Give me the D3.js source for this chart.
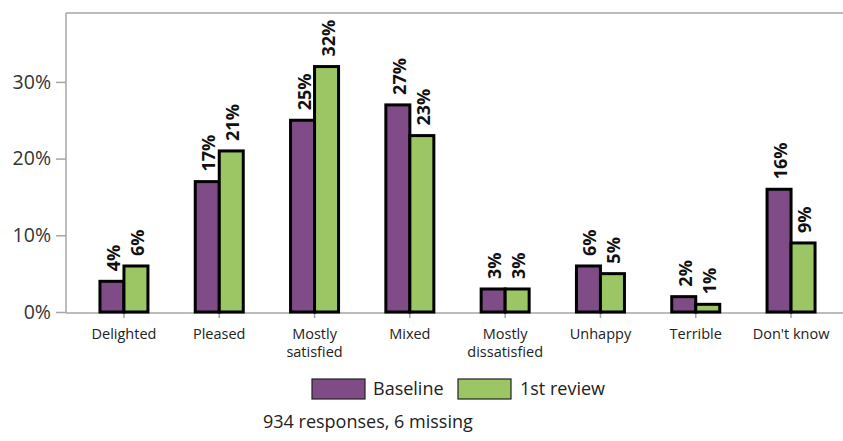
<!DOCTYPE html>
<html>
<head>
<meta charset="utf-8">
<script src="https://cdn.jsdelivr.net/npm/d3@7"></script>
<style>
  body { margin: 0; background: #fff; }
  svg { display: block; }
  text { font-family: "Open Sans", sans-serif; }
</style>
</head>
<body>
<svg id="chart" width="843" height="441"></svg>
<script>
const categories = ["Delighted", "Pleased", "Mostly satisfied", "Mixed", "Mostly dissatisfied", "Unhappy", "Terrible", "Don't know"];
const categoryLines = [["Delighted"], ["Pleased"], ["Mostly", "satisfied"], ["Mixed"], ["Mostly", "dissatisfied"], ["Unhappy"], ["Terrible"], ["Don't know"]];
const seriesNames = ["Baseline", "1st review"];
const baseline = [4, 17, 25, 27, 3, 6, 2, 16];
const firstReview = [6, 21, 32, 23, 3, 5, 1, 9];
const yTicks = [0, 10, 20, 30];
const footnote = "934 responses, 6 missing";

const colors = ["#7f4c87", "#9cc663"];
const svg = d3.select("#chart");

const plotLeft = 66, plotTop = 13, plotBottom = 313, plotRight = 843;

const x = d3.scaleBand().domain(categories).range([76.3, 838.7]).padding(0);
const y = d3.scaleLinear().domain([0, 39]).range([312, 312 - 39 * 7.67]);
const barW = 24;

// frame
svg.append("line").attr("x1", plotLeft).attr("x2", plotRight).attr("y1", plotTop).attr("y2", plotTop)
  .attr("stroke", "#a6a6a6").attr("stroke-width", 1.5);
svg.append("line").attr("x1", plotLeft).attr("x2", plotLeft).attr("y1", plotTop).attr("y2", plotBottom)
  .attr("stroke", "#a6a6a6").attr("stroke-width", 1.5);

// y axis
const yAxis = d3.axisLeft(y).tickValues(yTicks).tickFormat(d => d + "%").tickSize(10).tickPadding(5);
const gy = svg.append("g").attr("transform", `translate(${plotLeft},0)`).call(yAxis);
gy.select(".domain").remove();
gy.selectAll(".tick line").attr("stroke", "#a6a6a6").attr("stroke-width", 1.5);
gy.selectAll(".tick text").attr("font-size", 19.5).attr("fill", "#333").style("font-family", "'Open Sans', sans-serif");

// x axis
const xAxis = d3.axisBottom(x).tickSize(5).tickFormat("");
const gx = svg.append("g").attr("transform", `translate(0,${plotBottom})`).call(xAxis);
gx.select(".domain").remove();
svg.append("line").attr("x1", plotLeft).attr("x2", plotRight).attr("y1", plotBottom).attr("y2", plotBottom)
  .attr("stroke", "#a6a6a6").attr("stroke-width", 1.5);
gx.selectAll(".tick line").attr("stroke", "#a6a6a6").attr("stroke-width", 1.5);

categories.forEach((c, i) => {
  const t = svg.append("text")
    .attr("x", x(c) + x.bandwidth() / 2)
    .attr("y", 339)
    .attr("text-anchor", "middle")
    .attr("font-size", 14.5)
    .attr("fill", "#222");
  categoryLines[i].forEach((ln, j) => {
    t.append("tspan").attr("x", x(c) + x.bandwidth() / 2).attr("dy", j === 0 ? 0 : 18).text(ln);
  });
});

// bars
const data = [baseline, firstReview];
data.forEach((vals, s) => {
  const g = svg.append("g");
  g.selectAll("rect").data(categories).join("rect")
    .attr("x", c => x(c) + x.bandwidth() / 2 - barW + s * barW)
    .attr("y", (c, i) => y(vals[i]))
    .attr("width", barW)
    .attr("height", (c, i) => y(0) - y(vals[i]))
    .attr("fill", colors[s])
    .attr("stroke", "#000")
    .attr("stroke-width", 3);
  g.selectAll("text").data(categories).join("text")
    .attr("transform", (c, i) => {
      const cx = x(c) + x.bandwidth() / 2 - barW / 2 + s * barW + 1;
      return `translate(${cx},${y(vals[i]) - 10}) rotate(-90)`;
    })
    .attr("dominant-baseline", "central")
    .attr("text-anchor", "start")
    .attr("font-size", 18)
    .attr("font-weight", "bold")
    .attr("fill", "#111")
    .text((c, i) => vals[i] + "%");
});

// legend
const legendItems = [{ x: 312, tx: 373 }, { x: 458, tx: 520 }];
seriesNames.forEach((name, s) => {
  svg.append("rect").attr("x", legendItems[s].x).attr("y", 379).attr("width", 53).attr("height", 20)
    .attr("fill", colors[s]).attr("stroke", "#222").attr("stroke-width", 1.2);
  svg.append("text").attr("x", legendItems[s].tx).attr("y", 395).attr("font-size", 18)
    .attr("fill", "#222").text(name);
});

svg.append("text").attr("x", 263).attr("y", 428).attr("font-size", 18).attr("fill", "#222").text(footnote);
</script>
</body>
</html>
